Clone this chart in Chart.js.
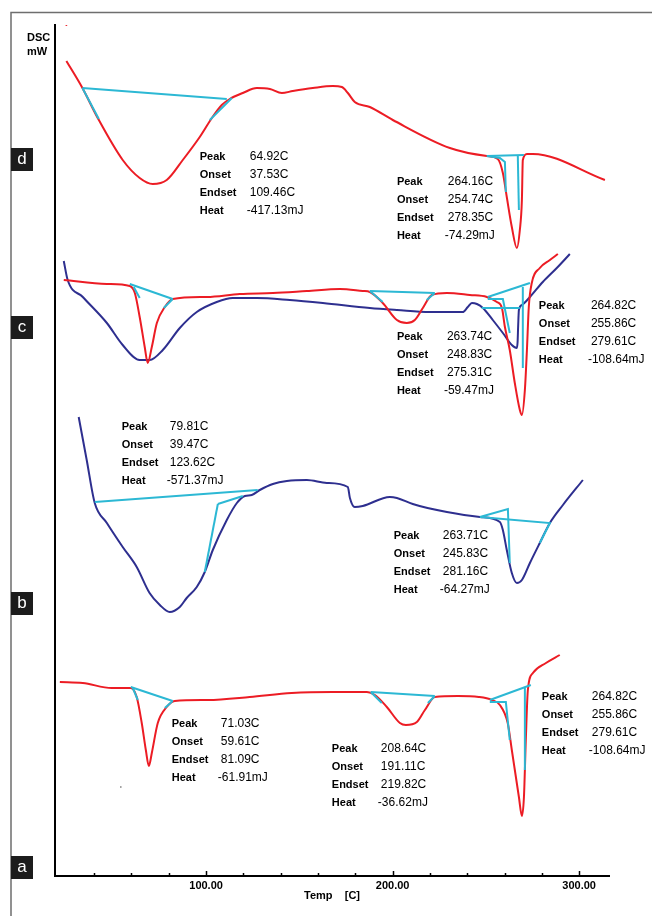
<!DOCTYPE html>
<html><head><meta charset="utf-8">
<script src="https://cdn.jsdelivr.net/npm/chart.js@4/dist/chart.umd.min.js"></script>
<style>html,body{margin:0;padding:0;background:#fff;}canvas{display:block;}</style>
</head><body>
<canvas id="c" width="652" height="916"></canvas>
<script>
// ---------- DATA (Temp in C, DSC signal in arbitrary mW offset units) ----------
const xTickLabels = [100, 200, 300];
const minorTicks = [40, 60, 80, 100, 120, 140, 160, 180, 200, 220, 240, 260, 280, 300];
const xTitle = 'Temp    [C]';

// curve d (red)
const dT = [25.1,33.7,41.9,55.3,64.4,71.4,78.9,87.5,96.6,103.1,108.4,112.7,119.7,127.2,134.2,140.6,146.5,157.2,167.9,172.8,176.0,179.7,187.8,200.1,230.7,250.5,256.4,259.1,261.2,263.9,266.6,268.2,269.3,269.8,272.0,275.2,313.8];
const dS = [81.5,78.8,75.8,71.6,69.8,69.2,69.6,71.6,73.9,75.8,77.1,77.7,78.3,78.8,78.7,78.3,78.5,78.8,79.0,78.9,78.3,77.4,76.9,75.6,72.8,72.0,71.7,70.3,67.9,64.9,62.8,64.6,67.6,71.6,72.2,72.2,69.6];
const dCyanT = [33.7,111.1,null,33.7,42.5,null,102.0,113.8,null,250.5,270.4,null,250.5,257.5,260.2,260.7,null,267.1,267.7];
const dCyanS = [78.8,77.7,null,78.8,75.7,null,75.6,77.8,null,72.0,72.1,null,72.0,71.8,71.4,68.4,null,72.1,66.6];

// curve c (red)
const cRedT = [23.7,46.8,59.1,61.8,64.4,67.1,68.7,70.9,73.6,77.9,82.1,100.4,118.1,135.8,154.0,171.7,184.0,187.8,194.7,202.3,207.6,211.9,216.2,221.0,229.1,241.4,250.5,255.9,258.6,260.2,262.8,265.5,268.2,269.3,270.9,272.0,273.0,274.6,278.9,284.3,288.6];
const cRedS = [59.6,59.2,59.0,58.3,55.9,52.9,51.3,52.9,55.3,56.9,57.7,57.9,58.2,58.3,58.5,58.7,58.5,58.4,57.3,55.6,55.3,55.6,56.8,58.1,58.3,58.1,57.9,57.4,56.8,54.9,52.6,49.3,46.6,46.1,48.6,52.6,56.9,59.3,60.8,61.6,62.2];
// curve c (blue)
const cBlueT = [23.7,25.8,33.9,46.8,55.3,64.4,69.8,76.8,85.9,95.0,105.7,114.3,127.2,144.9,162.6,187.8,202.3,219.9,237.6,240.3,242.5,245.2,248.4,253.7,259.1,263.9,266.6,267.0,267.3,267.7,269.3,273.6,280.5,288.0,295.0];
const cBlueS = [61.5,59.6,57.9,55.3,53.1,51.6,51.6,52.6,54.8,56.4,57.4,57.8,57.8,57.6,57.3,56.8,56.6,56.4,56.4,56.9,57.3,57.2,56.8,55.6,54.3,53.1,52.8,53.4,55.0,56.6,57.1,57.9,59.4,60.8,62.2];
const cCyanT = [59.1,82.1,null,61.2,64.4,null,77.3,82.1,null,187.8,222.6,null,187.8,194.7,null,218.3,222.6,null,251.0,273.6,null,251.0,259.1,262.8,null,247.8,268.2,null,269.8,269.8];
const cCyanS = [59.2,57.7,null,58.9,57.8,null,56.8,57.7,null,58.5,58.3,null,58.5,57.4,null,57.6,58.3,null,57.9,59.3,null,57.7,57.7,54.3,null,56.8,56.8,null,58.9,50.8];

// curve b (blue)
const bT = [31.7,36.0,40.3,46.8,55.3,62.8,69.7,75.2,80.5,85.9,89.6,95.0,99.3,103.6,111.1,116.5,120.8,124.5,128.8,135.8,143.3,154.0,164.7,176.0,177.1,179.7,184.0,198.5,202.3,210.8,229.1,246.8,257.5,259.1,261.2,263.9,266.6,269.3,273.6,278.9,284.3,291.3,302.0];
const bS = [45.9,41.6,37.3,35.3,32.9,30.9,28.3,27.1,26.4,26.9,27.8,28.9,30.4,32.6,35.6,37.3,38.0,38.1,38.6,39.2,39.5,39.6,39.3,38.9,37.8,36.9,37.0,37.9,37.8,37.2,36.4,35.9,35.4,34.6,32.6,30.3,29.3,29.6,31.3,33.3,35.3,37.1,39.6];
const bCyanT = [40.3,127.7,null,106.3,119.7,null,106.3,99.3,null,246.8,261.8,262.8,null,246.8,284.3,278.9];
const bCyanS = [37.4,38.6,null,37.2,38.0,null,37.2,30.4,null,35.9,36.7,31.3,null,35.9,35.3,33.3];

// curve a (red)
const aT = [21.6,33.9,49.4,59.6,62.8,65.5,67.7,69.3,70.9,74.1,78.9,83.2,100.9,123.4,145.9,167.9,186.2,190.5,196.9,203.9,207.1,213.0,217.3,222.6,235.0,246.2,253.2,257.5,261.7,263.9,267.7,269.3,270.4,271.4,272.5,275.2,282.2,289.6];
const aS = [19.4,19.3,18.8,18.8,17.9,15.3,12.6,11.0,12.3,15.3,16.9,17.5,17.6,17.9,18.3,18.4,18.4,18.1,16.9,15.3,15.1,15.4,16.6,17.9,18.0,17.9,17.6,17.1,15.3,12.6,7.9,6.0,7.9,13.6,18.6,20.3,21.3,22.1];
const aCyanT = [59.6,82.1,null,60.7,63.4,null,77.9,82.1,null,188.3,222.6,null,188.3,194.2,null,218.9,222.6,null,252.1,274.1,null,252.1,260.7,262.8,null,270.9,270.9];
const aCyanS = [18.9,17.5,null,18.8,17.6,null,16.8,17.5,null,18.4,18.0,null,18.4,17.3,null,17.3,18.0,null,17.6,19.1,null,17.4,17.4,13.6,null,18.9,10.6];

// stray marks
const strayT = [25.1, 54.3];
const strayS = [85.1, 8.9];

// annotation texts
const rowLabels = ['Peak', 'Onset', 'Endset', 'Heat'];
const annD1 = ['64.92C', '37.53C', '109.46C', '-417.13mJ'];
const annD2 = ['264.16C', '254.74C', '278.35C', '-74.29mJ'];
const annC1 = ['263.74C', '248.83C', '275.31C', '-59.47mJ'];
const annC2 = ['264.82C', '255.86C', '279.61C', '-108.64mJ'];
const annB1 = ['79.81C', '39.47C', '123.62C', '-571.37mJ'];
const annB2 = ['263.71C', '245.83C', '281.16C', '-64.27mJ'];
const annA1 = ['71.03C', '59.61C', '81.09C', '-61.91mJ'];
const annA2 = ['208.64C', '191.11C', '219.82C', '-36.62mJ'];
const annA3 = ['264.82C', '255.86C', '279.61C', '-108.64mJ'];
const panelLetters = ['d', 'c', 'b', 'a'];
const panelLetterS = [71.6, 54.8, 27.2, 0.8];

// ---------- build ----------
const RED = '#ec1c24', BLUE = '#2e2f8f', CYAN = '#2cb8d4';
function pts(T, S) { return T.map((t, i) => ({x: t, y: S[i]})); }
function segs(T, S) {
  const out = []; let cur = [];
  T.forEach((t, i) => {
    if (t === null) { if (cur.length) out.push(cur); cur = []; }
    else cur.push({x: t, y: S[i]});
  });
  if (cur.length) out.push(cur);
  return out;
}
const datasets = [];
function curve(T, S, color, order) {
  datasets.push({data: pts(T, S), borderColor: color, borderWidth: 2, pointRadius: 0,
    cubicInterpolationMode: 'monotone', fill: false, order: order});
}
function cyan(T, S) {
  segs(T, S).forEach(d => datasets.push({data: d, borderColor: CYAN, borderWidth: 2, pointRadius: 0, tension: 0, fill: false, order: 0}));
}
curve(dT, dS, RED, 1);
curve(cRedT, cRedS, RED, 1);
curve(cBlueT, cBlueS, BLUE, 2);
curve(bT, bS, BLUE, 2);
curve(aT, aS, RED, 1);
cyan(dCyanT, dCyanS); cyan(cCyanT, cCyanS); cyan(bCyanT, bCyanS); cyan(aCyanT, aCyanS);
datasets.push({data: [pts(strayT, strayS)[0]], showLine: false, pointRadius: 1, pointBackgroundColor: RED, pointBorderWidth: 0, order: 0});
datasets.push({data: [pts(strayT, strayS)[1]], showLine: false, pointRadius: 0.8, pointBackgroundColor: '#555', pointBorderWidth: 0, order: 0});

// annotation anchors in data units: label column T, value column T, first-row S
const annotations = [
  {lt: 96.6, vt: 123.4, s: 71.9, v: annD1},
  {lt: 202.3, vt: 229.6, s: 69.4, v: annD2},
  {lt: 202.3, vt: 229.1, s: 53.9, v: annC1},
  {lt: 278.4, vt: 306.3, s: 57.0, v: annC2},
  {lt: 54.8, vt: 80.5, s: 44.9, v: annB1},
  {lt: 200.6, vt: 226.9, s: 34.0, v: annB2},
  {lt: 81.6, vt: 107.9, s: 15.2, v: annA1},
  {lt: 167.4, vt: 193.7, s: 12.7, v: annA2},
  {lt: 280.0, vt: 306.8, s: 17.9, v: annA3}
];

const FONT = '"Liberation Sans", Arial, sans-serif';
const decor = {
  id: 'decor',
  beforeDraw(chart) {
    const ctx = chart.ctx;
    ctx.save();
    ctx.fillStyle = '#fff';
    ctx.fillRect(0, 0, chart.width, chart.height);
    ctx.strokeStyle = '#6e6e6e';
    ctx.lineWidth = 1.5;
    ctx.beginPath();
    ctx.moveTo(11, chart.height); ctx.lineTo(11, 12.5); ctx.lineTo(chart.width, 12.5);
    ctx.stroke();
    ctx.restore();
  },
  afterDraw(chart) {
    const ctx = chart.ctx, xs = chart.scales.x, ys = chart.scales.y;
    const ca = chart.chartArea;
    ctx.save();
    // tick marks (inward)
    ctx.strokeStyle = '#000';
    ctx.lineWidth = 1.5;
    minorTicks.forEach(v => {
      const px = Math.round(xs.getPixelForValue(v)) + 0.5;
      const len = (v % 100 === 0) ? 5 : 3;
      ctx.beginPath(); ctx.moveTo(px, ca.bottom); ctx.lineTo(px, ca.bottom - len); ctx.stroke();
    });
    // x axis title
    ctx.fillStyle = '#000';
    ctx.font = 'bold 11px ' + FONT;
    ctx.textAlign = 'center'; ctx.textBaseline = 'middle';
    ctx.fillText(xTitle, (ca.left + ca.right) / 2, 896);
    // y axis label
    ctx.textAlign = 'left';
    ctx.fillText('DSC', 27, 38);
    ctx.fillText('mW', 27, 52);
    // panel letters
    panelLetters.forEach((L, i) => {
      const cy = ys.getPixelForValue(panelLetterS[i]);
      ctx.fillStyle = '#1c1c1c';
      ctx.fillRect(11, cy - 12, 22, 23);
      ctx.fillStyle = '#fff';
      ctx.font = '17px ' + FONT;
      ctx.textAlign = 'center'; ctx.textBaseline = 'middle';
      ctx.fillText(L, 22, cy - 1);
    });
    // annotations
    ctx.fillStyle = '#000';
    ctx.textAlign = 'left'; ctx.textBaseline = 'middle';
    annotations.forEach(a => {
      const lx = xs.getPixelForValue(a.lt), vx = xs.getPixelForValue(a.vt);
      const y0 = ys.getPixelForValue(a.s);
      rowLabels.forEach((lab, i) => {
        const y = y0 + i * 18;
        ctx.font = 'bold 11px ' + FONT;
        ctx.fillText(lab, lx, y);
        ctx.font = '12px ' + FONT;
        const val = a.v[i];
        ctx.fillText(val, vx - (val[0] === '-' ? 3 : 0), y);
      });
    });
    ctx.restore();
  }
};

new Chart(document.getElementById('c'), {
  type: 'line',
  data: {datasets: datasets},
  plugins: [decor],
  options: {
    responsive: false,
    devicePixelRatio: 1,
    animation: false,
    events: [],
    layout: {padding: {left: 55, top: 25, right: 43, bottom: 0}},
    plugins: {legend: {display: false}, tooltip: {enabled: false}},
    scales: {
      x: {
        type: 'linear', min: 19, max: 316,
        grid: {display: false, drawTicks: false},
        border: {display: true, color: '#000', width: 2},
        afterBuildTicks: s => { s.ticks = xTickLabels.map(v => ({value: v})); },
        afterFit: s => { s.height = 40; },
        ticks: {color: '#000', font: {family: FONT, size: 11, weight: 'bold'}, padding: 3, maxRotation: 0, autoSkip: false,
                callback: v => Number(v).toFixed(2)},
        title: {display: false}
      },
      y: {
        type: 'linear', min: 0, max: 85.1,
        grid: {display: false, drawTicks: false},
        border: {display: true, color: '#000', width: 2},
        ticks: {display: false},
        afterFit: s => { s.width = 0; }
      }
    }
  }
});
</script></body></html>
